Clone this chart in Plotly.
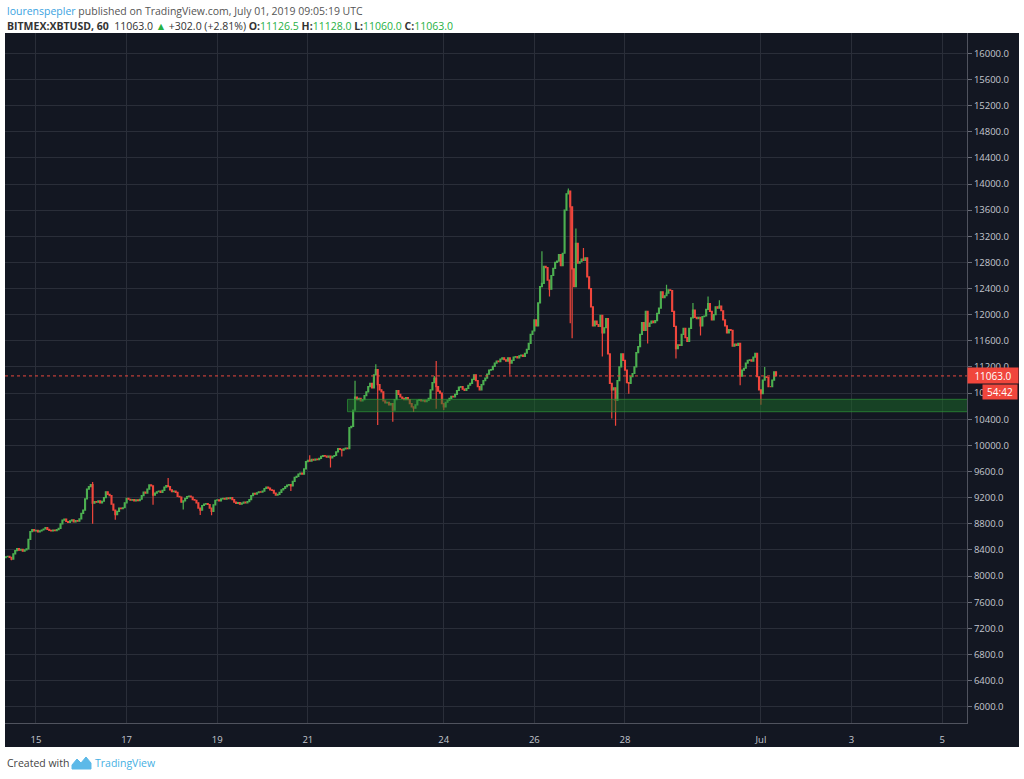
import pandas as pd
import plotly.graph_objects as go

# hourly closes, BITMEX:XBTUSD 60 (first candle 2019-06-14 08:00)
jun14 = [8295, 8300, 8285, 8260, 8340, 8390, 8420, 8395, 8410, 8380, 8400, 8415,
         8560, 8680, 8710, 8690]
jun15 = [8700, 8675, 8690, 8705, 8720, 8740, 8715, 8700, 8690, 8705, 8695, 8710,
         8730, 8800, 8855, 8870, 8835, 8820, 8845, 8860, 8830, 8850, 8840, 8875]
jun16 = [8960, 9010, 9180, 9330, 9370, 9400, 9115, 9140, 9130, 9150, 9120, 9145,
         9200, 9290, 9250, 9230, 9100, 9010, 8940, 8990, 9040, 9030, 9045, 9120]
jun17 = [9190, 9175, 9160, 9170, 9150, 9165, 9155, 9175, 9230, 9285, 9270, 9330,
         9395, 9380, 9240, 9270, 9290, 9300, 9280, 9310, 9360, 9385, 9370, 9320]
jun18 = [9290, 9300, 9280, 9220, 9210, 9130, 9150, 9190, 9215, 9225, 9210, 9170,
         9160, 9120, 9040, 9010, 9080, 9100, 9110, 9095, 9040, 8990, 9090, 9160]
jun19 = [9165, 9150, 9180, 9190, 9175, 9195, 9185, 9200, 9170, 9130, 9110, 9125,
         9100, 9115, 9130, 9120, 9140, 9170, 9230, 9265, 9255, 9275, 9290, 9285]
jun20 = [9300, 9340, 9360, 9345, 9320, 9310, 9270, 9240, 9250, 9280, 9320, 9340,
         9370, 9390, 9400, 9380, 9450, 9510, 9525, 9560, 9575, 9560, 9640, 9750]
jun21 = [9770, 9760, 9785, 9775, 9790, 9780, 9800, 9830, 9845, 9835, 9820, 9835,
         9810, 9830, 9845, 9900, 9950, 9940, 9925, 9945, 9960, 9950, 10270, 10290]
jun22 = [10540, 10740, 10700, 10720, 10680, 10700, 10760, 10820, 10900, 10950, 10880, 11080,
         11160, 10930, 10850, 10820, 10680, 10650, 10660, 10620, 10640, 10540, 10700, 10840]
jun23 = [10780, 10740, 10720, 10700, 10730, 10700, 10640, 10590, 10570, 10620, 10690, 10700,
         10680, 10690, 10670, 10690, 10720, 10850, 10960, 11030, 10900, 10830, 10800, 10640]
jun24 = [10590, 10660, 10690, 10720, 10750, 10740, 10780, 10840, 10890, 10900, 10860, 10840,
         10870, 10920, 10950, 11010, 11080, 10990, 10900, 10850, 10930, 10990, 11030, 11090]
jun25 = [11150, 11160, 11210, 11260, 11290, 11280, 11320, 11340, 11310, 11290, 11340, 11260,
         11300, 11350, 11360, 11340, 11370, 11380, 11360, 11410, 11470, 11560, 11700, 11750]
jun26 = [11920, 11830, 12180, 12430, 12480, 12740, 12720, 12530, 12390, 12600, 12710, 12800,
         12820, 12920, 12750, 12940, 13600, 13850, 13890, 13650, 12700, 12430, 13090, 12790]
jun27 = [12810, 12850, 12830, 12870, 12580, 12400, 12120, 11830, 11900, 11850, 11820, 11990,
         11720, 11800, 11940, 11400, 10950, 10850, 10880, 10690, 10990, 11200, 11400, 11300]
jun28 = [11150, 10960, 10950, 11050, 11100, 11200, 11420, 11510, 11700, 11880, 11760, 12050,
         11820, 11870, 11900, 11880, 11910, 12020, 12100, 12350, 12260, 12290, 12330, 12380]
jun29 = [12370, 12050, 11820, 11480, 11540, 11530, 11700, 11790, 11650, 11590, 11790, 11950,
         12070, 11960, 11940, 11960, 11830, 11970, 11980, 12080, 12170, 12050, 11920, 12000]
jun30 = [12120, 12100, 12130, 12060, 11920, 11830, 11720, 11770, 11760, 11520, 11550, 11530,
         11560, 11060, 11150, 11180, 11260, 11300, 11310, 11290, 11350, 11410, 11050, 10850]
jul01 = [10790, 11000, 11050, 11040, 10900, 10900, 11000, 11126.5, 11063]

first_open = 8280

# wicks that stick out (candle index -> price)
wick_highs = {46: 9440, 86: 9500, 161: 9850, 185: 10990, 196: 11240, 227: 11060,
              228: 11290, 284: 12970, 298: 13930, 302: 13320, 306: 13020, 350: 12460,
              364: 12180, 372: 12280, 378: 12220, 402: 11200, 408: 11128}
wick_lows = {3: 8240, 46: 8800, 58: 8860, 78: 9090, 94: 9020, 103: 8933, 109: 8930,
             151: 9300, 172: 9660, 178: 9830, 197: 10310, 205: 10360, 216: 10510,
             228: 10560, 232: 10540, 267: 11080, 288: 12280, 299: 11870, 300: 11640,
             316: 11360, 321: 10410, 323: 10300, 330: 10790, 340: 11560, 355: 11330,
             368: 11680, 389: 10920, 400: 10620, 408: 11060}

zone_low, zone_high = 10515, 10705
last_price = 11063.0

day_ticks = ["2019-06-15", "2019-06-17", "2019-06-19", "2019-06-21", "2019-06-24",
             "2019-06-26", "2019-06-28", "2019-07-01", "2019-07-03", "2019-07-05"]
day_labels = ["15", "17", "19", "21", "24", "26", "28", "Jul", "3", "5"]

closes = (jun14 + jun15 + jun16 + jun17 + jun18 + jun19 + jun20 + jun21 + jun22
          + jun23 + jun24 + jun25 + jun26 + jun27 + jun28 + jun29 + jun30 + jul01)
times = pd.date_range("2019-06-14 08:00", periods=len(closes), freq="h")
opens = [first_open] + closes[:-1]
highs = [max(o, c) for o, c in zip(opens, closes)]
lows = [min(o, c) for o, c in zip(opens, closes)]
for k, v in wick_highs.items():
    highs[k] = v
for k, v in wick_lows.items():
    lows[k] = v

BG = "#131722"
GRID = "#2a2e39"
UP = "#4caf50"
DOWN = "#f0463c"
TXT = "#c4c7cf"
FONT = "Open Sans"

# plot area in pixels: x 5..967, y 33..723
L, R, T, B = 5, 967, 33, 723


def px(x, y):
    return (x - L) / (R - L), (B - y) / (B - T)


fig = go.Figure(go.Candlestick(
    x=times, open=opens, high=highs, low=lows, close=closes,
    increasing=dict(line=dict(color=UP, width=1.2), fillcolor=UP),
    decreasing=dict(line=dict(color=DOWN, width=1.2), fillcolor=DOWN),
    whiskerwidth=0, hoverinfo="skip",
))

# dark panel behind plot + axes
x1, y0 = px(1019, 747)
fig.add_shape(type="rect", xref="paper", yref="paper", x0=0, x1=x1, y0=y0, y1=1,
              fillcolor=BG, line=dict(width=0), layer="below")
# support zone
fig.add_shape(type="rect", xref="x", yref="y", x0="2019-06-21 21:00", x1="2019-07-05 14:00",
              y0=zone_low, y1=zone_high, fillcolor="rgba(28,110,40,0.5)",
              line=dict(color="rgba(45,150,55,0.7)", width=1), layer="above")
# last price line
fig.add_shape(type="line", xref="paper", yref="y", x0=0, x1=1, y0=last_price, y1=last_price,
              line=dict(color="#e8473d", width=1, dash="dot"))

# logo (approximate)
pts = [(72, 769), (72, 765), (77, 759), (81, 763), (86, 757), (91, 763), (91, 769)]
path = "M " + " L ".join("%f,%f" % px(a, b) for a, b in pts) + " Z"
fig.add_shape(type="path", xref="paper", yref="paper", path=path,
              fillcolor="#5cb9e8", line=dict(color="#5cb9e8", width=1))

ann = []
ax, ay = px(5, 11)
ann.append(dict(x=ax, y=ay, xref="paper", yref="paper", xanchor="left", yanchor="middle",
                showarrow=False, font=dict(family=FONT, size=10.5, color="#555555"),
                text="<span style='color:#3aa3df'>lourenspepler</span> published on "
                     "TradingView.com, July 01, 2019 09:05:19 UTC"))
G = "#27b043"
ax, ay = px(5, 26)
ann.append(dict(x=ax, y=ay, xref="paper", yref="paper", xanchor="left", yanchor="middle",
                showarrow=False, font=dict(family=FONT, size=10.5, color="#333333"),
                text="<b>BITMEX:XBTUSD, 60</b>  11063.0 <span style='color:%s'>▲</span> "
                     "+302.0 (+2.81%%) <b>O:</b><span style='color:%s'>11126.5</span> "
                     "<b>H:</b><span style='color:%s'>11128.0</span> "
                     "<b>L:</b><span style='color:%s'>11060.0</span> "
                     "<b>C:</b><span style='color:%s'>11063.0</span>" % (G, G, G, G, G)))
ax, ay = px(5, 763)
ann.append(dict(x=ax, y=ay, xref="paper", yref="paper", xanchor="left", yanchor="middle",
                showarrow=False, font=dict(family=FONT, size=10.5, color="#444444"),
                text="Created with"))
ax, ay = px(93, 763)
ann.append(dict(x=ax, y=ay, xref="paper", yref="paper", xanchor="left", yanchor="middle",
                showarrow=False, font=dict(family=FONT, size=10.5, color="#45b0e3"),
                text="TradingView"))
ax, _ = px(967, 0)
ann.append(dict(x=ax, y=last_price, xref="paper", yref="y", xanchor="left", yanchor="middle",
                showarrow=False, font=dict(family=FONT, size=10, color="white"),
                text="%.1f" % last_price, bgcolor="#f0463c", width=48, height=13, borderpad=1))
ax, _ = px(982, 0)
ann.append(dict(x=ax, y=last_price, yshift=-16, xref="paper", yref="y", xanchor="left",
                yanchor="middle", showarrow=False, font=dict(family=FONT, size=10, color="white"),
                text="54:42", bgcolor="#f0463c", width=32, height=12, borderpad=1))

fig.update_layout(
    width=1024, height=779,
    margin=dict(l=L, r=1024 - R, t=T, b=779 - B, autoexpand=False),
    paper_bgcolor="white", plot_bgcolor=BG, showlegend=False,
    annotations=ann,
    xaxis=dict(type="date", range=["2019-06-14 07:35", "2019-07-05 13:10"],
               tickvals=day_ticks, ticktext=day_labels,
               showgrid=True, gridcolor=GRID, gridwidth=1, zeroline=False,
               ticks="outside", ticklen=8, tickcolor=BG,
               tickfont=dict(family=FONT, size=9.5, color=TXT),
               showline=True, linecolor="#50535e", linewidth=1,
               rangeslider=dict(visible=False), fixedrange=True),
    yaxis=dict(side="right", range=[5751, 16311], dtick=400, tick0=0, tickformat=".1f",
               showgrid=True, gridcolor=GRID, gridwidth=1, zeroline=False,
               ticks="outside", ticklen=4, tickcolor="#6a6d78",
               tickfont=dict(family=FONT, size=9.5, color=TXT),
               showline=True, linecolor="#50535e", linewidth=1, fixedrange=True),
)

# page body has a default 8px margin; drop it so the figure sits at the top-left corner
fig.write_html("out.html", config={"displayModeBar": False},
               post_script="document.body.style.margin='0';")
